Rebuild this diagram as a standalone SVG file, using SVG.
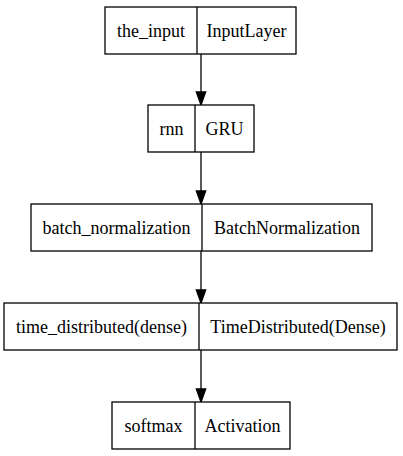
<svg xmlns="http://www.w3.org/2000/svg" width="403" height="456" viewBox="0 0 403 456">
<style>
.box{fill:#fff;stroke:#000;stroke-width:1.3}
.div{stroke:#000;stroke-width:1.3}
text{font-family:"Liberation Serif","Times New Roman",serif;font-size:18px;fill:#000;text-anchor:middle}
.edge{stroke:#000;stroke-width:1.3;fill:none}
.head{fill:#000;stroke:#000;stroke-width:1.3}
</style>
<rect width="403" height="456" fill="#fff"/>
<g id="connectors">
<line class="edge" x1="201" y1="54" x2="201" y2="93"/>
<polygon class="head" points="201,105 196.3,92 205.7,92"/>
<line class="edge" x1="201" y1="152" x2="201" y2="192"/>
<polygon class="head" points="201,204 196.3,191 205.7,191"/>
<line class="edge" x1="201" y1="251" x2="201" y2="291"/>
<polygon class="head" points="201,303 196.3,290 205.7,290"/>
<line class="edge" x1="201" y1="350" x2="201" y2="390"/>
<polygon class="head" points="201,402 196.3,389 205.7,389"/>
</g>
<g id="the_input">
<rect class="box" x="105" y="7" width="191" height="47"/>
<line class="div" x1="197" y1="7" x2="197" y2="54"/>
<text x="151" y="36.5">the_input</text>
<text x="246.5" y="36.5">InputLayer</text>
</g>
<g id="rnn">
<rect class="box" x="148" y="105" width="106" height="47"/>
<line class="div" x1="195" y1="105" x2="195" y2="152"/>
<text x="171.5" y="134.5">rnn</text>
<text x="224.5" y="134.5">GRU</text>
</g>
<g id="batch_normalization">
<rect class="box" x="31" y="204" width="341" height="47"/>
<line class="div" x1="202" y1="204" x2="202" y2="251"/>
<text x="116.5" y="233.5">batch_normalization</text>
<text x="287" y="233.5">BatchNormalization</text>
</g>
<g id="time_distributed">
<rect class="box" x="4" y="303" width="393" height="47"/>
<line class="div" x1="199" y1="303" x2="199" y2="350"/>
<text x="101.5" y="332.5">time_distributed(dense)</text>
<text x="298" y="332.5">TimeDistributed(Dense)</text>
</g>
<g id="softmax">
<rect class="box" x="112" y="402" width="178" height="47"/>
<line class="div" x1="195" y1="402" x2="195" y2="449"/>
<text x="153.5" y="431.5">softmax</text>
<text x="242.5" y="431.5">Activation</text>
</g>
</svg>
